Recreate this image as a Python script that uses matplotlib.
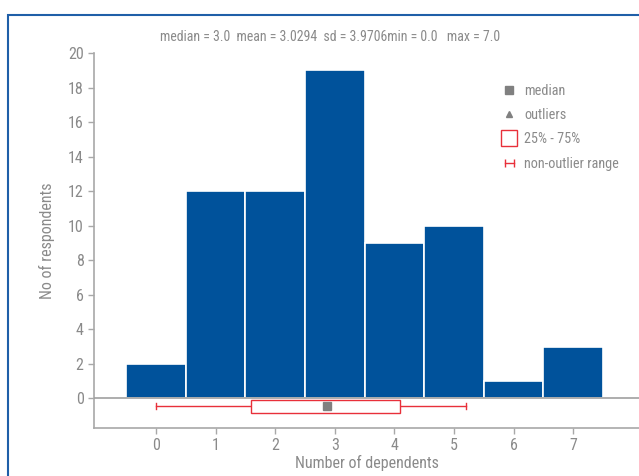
import matplotlib
matplotlib.use("Agg")
import matplotlib.pyplot as plt
from matplotlib.patches import Rectangle
from matplotlib.lines import Line2D
from matplotlib.legend_handler import HandlerLine2D

categories = [0, 1, 2, 3, 4, 5, 6, 7]
counts = [2, 12, 12, 19, 9, 10, 1, 3]
yticks = [0, 2, 4, 6, 8, 10, 12, 14, 16, 18, 20]
whisker_lo, whisker_hi = 0.0, 5.2
q1, q3 = 1.6, 4.1
median_pos = 2.87
stats_text = "median = 3.0  mean = 3.0294  sd = 3.9706min = 0.0   max = 7.0"
legend_labels = ["median", "outliers", "25% - 75%", "non-outlier range"]

plt.rcParams['font.family'] = ["Roboto Condensed", "DejaVu Sans"]

GREY = "#8a8a8a"
BLUE = "#00529b"
RED = "#e8303a"

W, H = 639, 476
fig = plt.figure(figsize=(W / 100, H / 100), dpi=100)

# outer blue frame (cropped on right and bottom)
fig.patches.append(Rectangle((8 / W, -0.1), 2.0, 1 - 15 / H + 0.1, transform=fig.transFigure,
                             fill=False, edgecolor="#1f5fa8", linewidth=1.5, zorder=0))

ax = fig.add_axes([94 / W, 1 - 428 / H, (W - 94) / W, (428 - 53) / H])
ax.set_xlim(-1.04, -1.04 + (W - 94) / 59.6)
ax.set_ylim(-1.72, 20)

ax.bar(categories, counts, width=1.0, color=BLUE, edgecolor="white", linewidth=1.2, zorder=2)
ax.axhline(0, color="#a0a0a0", linewidth=1.2, zorder=3)

# box plot below
yb = -0.46
ax.plot([whisker_lo, q1], [yb, yb], color=RED, lw=1.0, zorder=3)
ax.plot([q3, whisker_hi], [yb, yb], color=RED, lw=1.0, zorder=3)
for xv in (whisker_lo, whisker_hi):
    ax.plot([xv, xv], [yb - 0.18, yb + 0.18], color=RED, lw=1.0, zorder=3)
ax.add_patch(Rectangle((q1, -0.87), q3 - q1, 0.75, facecolor="white", edgecolor=RED, lw=1.0, zorder=3))
ax.plot([median_pos], [yb], marker="s", color="#808080", markersize=6, zorder=4)

for s in ["top", "right"]:
    ax.spines[s].set_visible(False)
for s in ["left", "bottom"]:
    ax.spines[s].set_color("#a8a8a8")
    ax.spines[s].set_linewidth(1.2)

ax.set_yticks(yticks)
ax.set_xticks(categories)
fs = 11.5
ax.tick_params(axis="both", colors="#a8a8a8", labelcolor=GREY, labelsize=fs, length=4, width=1)
ax.set_ylabel("No of respondents", color=GREY, fontsize=fs)
ax.set_xlabel("Number of dependents", color=GREY, fontsize=fs)
ax.yaxis.set_label_coords((47 - 94) / (W - 94), 0.5)
ax.xaxis.set_label_coords(0.5, -(463 - 428) / (428 - 53))
ax.xaxis.label.set_va("center")
ax.yaxis.label.set_va("center")

fig.text(330 / W, 1 - 37 / H, stats_text, ha="center", va="center", color=GREY, fontsize=10)

# legend
handles = [
    Line2D([], [], marker="s", color="#808080", linestyle="none", markersize=6),
    Line2D([], [], marker="^", color="#808080", linestyle="none", markersize=5),
    Line2D([], [], marker="s", markerfacecolor="white", markeredgecolor=RED, linestyle="none", markersize=11),
    Line2D([], [], marker="|", color=RED, linestyle="-", markersize=6, lw=1),
]
leg = fig.legend(handles, legend_labels, loc="upper left", bbox_to_anchor=(488 / W, 1 - 71 / H),
                 frameon=False, fontsize=10.3, labelcolor=GREY, handlelength=1.2,
                 handletextpad=0.45, labelspacing=0.72,
                 handler_map={handles[3]: HandlerLine2D(numpoints=2)})

fig.savefig("out.png", dpi=100)
